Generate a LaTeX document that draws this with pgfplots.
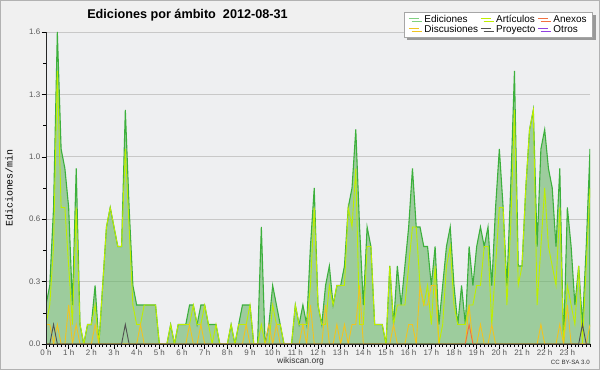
\documentclass[border=0pt]{standalone}
\usepackage{fontspec}
\setmainfont{Liberation Sans}
\newfontfamily\monof{Liberation Mono}
\usepackage{pgfplots}
\usepackage{pgfplotstable}
\pgfplotsset{compat=1.18}
\usetikzlibrary{shadows}
\definecolor{bgout}{HTML}{F0F0F0}
\definecolor{bgplot}{HTML}{EEEFF1}
\definecolor{edfill}{RGB}{103,181,101}
\definecolor{edline}{RGB}{60,176,60}
\definecolor{edleg}{RGB}{128,208,128}
\definecolor{art}{RGB}{190,238,0}
\definecolor{disc}{RGB}{240,196,32}
\definecolor{proy}{RGB}{80,80,80}
\definecolor{anex}{RGB}{240,112,64}
\definecolor{otros}{RGB}{144,64,224}
\definecolor{gridc}{RGB}{200,200,200}
\pgfplotsset{
  layers/mylayers/.define layer set={
    axis background,axis grid,main,axis ticks,axis lines,axis tick labels,axis descriptions,axis foreground
  }{/pgfplots/layers/standard},
}
\pgfplotstableread{
i E A D P X
0 0.2 0.1 0.1 0 0
1 0.3 0.2 0.1 0 0
2 0.7 0.5 0 0.1 0
3 1.6 1.4 0.1 0 0
4 1.0 0.7 0 0 0
5 0.9 0.7 0 0 0
6 0.7 0.4 0.2 0 0
7 0.2 0.1 0 0 0
8 0.9 0.7 0.1 0 0
9 0.1 0.1 0 0 0
10 0 0 0 0 0
11 0.1 0.1 0 0 0
12 0.1 0.1 0 0 0
13 0.3 0.2 0.1 0 0
14 0 0 0 0 0
15 0.3 0.3 0 0 0
16 0.6 0.6 0 0 0
17 0.7 0.7 0 0 0
18 0.6 0.6 0 0 0
19 0.5 0.5 0 0 0
20 0.5 0.5 0 0 0
21 1.2 1.0 0 0.1 0
22 0.7 0.6 0 0 0
23 0.3 0.2 0 0 0
24 0.2 0.1 0 0 0
25 0.2 0.1 0.1 0 0
26 0.2 0.2 0 0 0
27 0.2 0.2 0 0 0
28 0.2 0.2 0 0 0
29 0.2 0.2 0 0 0
30 0 0 0 0 0
31 0 0 0 0 0
32 0 0 0 0 0
33 0.1 0.1 0 0 0
34 0 0 0 0 0
35 0.1 0.1 0 0 0
36 0.1 0.1 0 0 0
37 0.1 0.1 0 0 0
38 0.2 0.1 0.1 0 0
39 0.2 0.2 0 0 0
40 0.1 0.1 0 0 0
41 0.2 0.1 0.1 0 0
42 0.2 0.2 0 0 0
43 0.1 0.1 0 0 0
44 0.1 0 0 0 0
45 0.1 0.1 0 0 0
46 0 0 0 0 0
47 0 0 0 0 0
48 0 0 0 0 0
49 0.1 0.1 0 0 0
50 0 0 0 0 0
51 0.1 0.1 0 0 0
52 0.2 0.1 0 0 0
53 0.2 0.1 0.1 0 0
54 0.2 0.2 0 0 0
55 0 0 0 0 0
56 0 0 0 0 0
57 0.6 0.1 0 0 0
58 0 0 0 0 0
59 0.1 0 0.1 0 0
60 0.3 0.2 0 0 0
61 0.2 0.1 0.1 0 0
62 0.1 0.1 0 0 0
63 0 0 0 0 0
64 0 0 0 0 0
65 0 0 0 0 0
66 0.2 0.2 0 0 0
67 0.1 0.1 0 0 0
68 0.2 0.1 0.1 0 0
69 0.1 0.1 0 0 0
70 0.5 0.3 0.2 0 0
71 0.8 0.7 0 0 0
72 0.2 0.2 0 0 0
73 0.1 0.1 0 0 0
74 0.3 0.1 0.2 0 0
75 0.4 0.3 0 0 0
76 0.2 0.2 0 0 0
77 0.3 0.3 0.1 0 0
78 0.3 0.3 0 0 0
79 0.4 0.3 0.1 0 0
80 0.7 0.7 0 0 0
81 0.8 0.6 0.1 0 0
82 1.1 0.9 0.1 0 0
83 0.6 0.1 0.3 0 0
84 0.2 0.1 0 0 0
85 0.6 0.5 0 0 0
86 0.5 0.5 0 0 0
87 0.1 0.1 0 0 0
88 0.1 0.1 0 0 0
89 0.1 0.1 0 0 0
90 0 0 0 0 0
91 0.4 0.4 0 0 0
92 0.1 0.1 0.1 0 0
93 0.4 0.2 0 0 0
94 0.2 0.2 0 0 0
95 0.4 0.2 0 0 0
96 0.6 0.4 0.1 0 0
97 0.9 0.6 0.1 0 0
98 0.6 0.6 0 0 0
99 0.6 0.3 0.3 0 0
100 0.5 0.2 0.2 0 0
101 0.5 0.3 0.2 0 0
102 0.3 0.1 0.3 0 0
103 0.5 0.4 0.3 0 0
104 0.1 0 0 0 0
105 0.3 0.1 0 0 0
106 0.5 0.4 0 0 0
107 0.6 0.5 0 0 0
108 0.3 0.2 0 0 0
109 0.1 0.1 0 0 0
110 0.3 0.1 0 0 0
111 0.1 0.1 0 0 0
112 0.5 0.2 0.2 0 0.1
113 0.3 0.2 0 0 0
114 0.5 0.3 0 0 0
115 0.6 0.3 0.1 0 0
116 0.5 0.5 0 0 0
117 0.6 0.5 0 0 0
118 0.3 0.1 0.1 0 0
119 0.7 0.4 0 0 0
120 1.0 0.7 0 0 0
121 0.7 0.7 0 0 0
122 0.3 0.2 0 0 0
123 0.8 0.6 0 0 0
124 1.4 1.2 0 0 0
125 0.4 0.3 0 0 0
126 0.4 0.4 0 0 0
127 0.8 0.8 0 0 0
128 1.1 1.1 0 0 0
129 1.2 1.2 0 0 0
130 0.5 0.2 0 0 0
131 1.0 0.5 0.1 0 0
132 1.1 0.8 0 0 0
133 0.9 0.5 0 0 0
134 0.8 0.4 0 0 0
135 0.5 0.3 0 0 0
136 0.9 0.7 0.1 0 0
137 0 0 0 0 0
138 0.7 0.3 0.2 0 0
139 0.5 0.2 0 0 0
140 0.2 0.1 0 0 0
141 0.4 0.4 0 0 0
142 0.1 0 0 0.1 0
143 0.5 0.4 0 0 0
144 1.0 0.8 0.1 0 0
}\data
\pagecolor{bgout}
\begin{document}
\begin{tikzpicture}[x=1bp,y=1bp]
\path (0,0) rectangle (600,370);
\begin{axis}[
  at={(46bp,26bp)}, anchor=south west,
  scale only axis, width=544bp, height=312bp,
  xmin=0, xmax=144, ymin=0, ymax=1.6,
  set layers=mylayers,
  axis lines*=left,
  axis line style={black!85, line width=0.8bp},
  axis background/.style={fill=bgplot},
  ytick={0,0.32,0.64,0.96,1.28,1.6},
  yticklabels={0.0,0.3,0.6,1.0,1.3,1.6},
  minor ytick={0.16,0.48,0.8,1.12,1.44},
  xtick={0,6,...,138},
  xticklabels={0 h,1 h,2 h,3 h,4 h,5 h,6 h,7 h,8 h,9 h,10 h,11 h,12 h,13 h,14 h,15 h,16 h,17 h,18 h,19 h,20 h,21 h,22 h,23 h},
  minor xtick={0,1,...,144},
  tick align=outside,
  major tick length=4.5bp, minor tick length=3bp,
  every tick/.style={black, line width=0.6bp},
  ymajorgrids, major grid style={gridc, line width=0.8bp},
  tick label style={font=\fontsize{8}{9}\selectfont, text=black!65},
  yticklabel style={inner sep=1bp},
  xticklabel style={inner sep=1bp},
  /pgf/number format/assume math mode=true,
  legend columns=3,
  legend cell align=left,
  legend style={at={(axis description cs:1.0055,1.064)}, anchor=north east,
    draw=gray!70, fill=white, line width=0.6bp,
    font=\fontsize{10}{11}\selectfont,
    inner xsep=4bp, inner ysep=1bp, row sep=-3bp,
    /tikz/every odd column/.append style={column sep=3bp},
    drop shadow={shadow xshift=3bp, shadow yshift=-3bp, fill=black!40, opacity=1}},
  legend image code/.code={\draw[#1, line width=1bp] (0bp,1bp) -- (10bp,1bp);},
]
\addplot[draw=edline, fill=edfill, fill opacity=0.6, draw opacity=1, line width=1.1bp, forget plot] table[x=i,y=E]{\data} \closedcycle;
\addplot[art, line width=0.9bp, forget plot] table[x=i,y=A]{\data};
\addplot[disc, line width=0.9bp, forget plot] table[x=i,y=D]{\data};
\addplot[anex, line width=0.9bp, forget plot] table[x=i,y=X]{\data};
\addplot[proy, line width=0.9bp, forget plot] table[x=i,y=P]{\data};
\addlegendimage{edleg}
\addlegendentry{Ediciones}
\addlegendimage{art}
\addlegendentry{Artículos}
\addlegendimage{anex}
\addlegendentry{Anexos}
\addlegendimage{disc}
\addlegendentry{Discusiones}
\addlegendimage{proy}
\addlegendentry{Proyecto}
\addlegendimage{otros}
\addlegendentry{Otros}
\end{axis}
\node[anchor=base, font=\fontsize{12.7}{14}\selectfont\bfseries] at (187.5,351.7) {Ediciones por ámbito\ \ 2012-08-31};
\node[rotate=90, font=\monof\fontsize{10}{12}\selectfont] at (9,182) {Ediciones/min};
\node[font=\fontsize{8.5}{10}\selectfont, text=black!80] at (300.5,8.5) {wikiscan.org};
\node[anchor=east, font=\fontsize{6.2}{7}\selectfont, text=black!80, inner sep=0pt] at (590,8) {CC BY-SA 3.0};
\draw[black!30, line width=1.2bp] (0.6,0.6) rectangle (599.4,369.4);
\end{tikzpicture}
\end{document}
